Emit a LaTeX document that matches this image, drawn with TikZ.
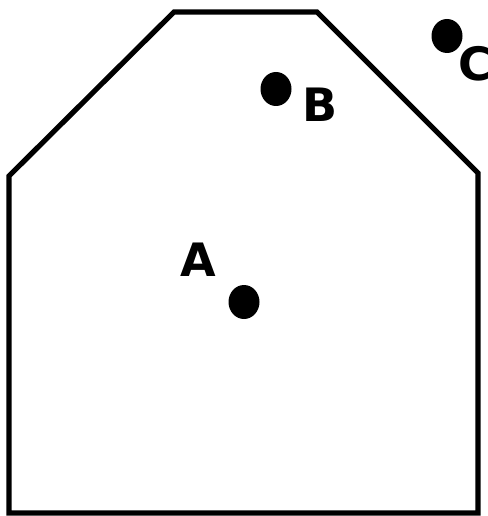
\documentclass[tikz,border=0pt]{standalone}
\usepackage{fontspec}
\setsansfont{DejaVu Sans}
\tikzset{
  wall/.style={line width=5.2pt, line join=miter},
  spot/.style={fill=black},
  tag/.style={font=\sffamily\bfseries\fontsize{46}{46}\selectfont, inner sep=0pt}
}
\begin{document}
\begin{tikzpicture}[x=1pt, y=-1pt]
    \useasboundingbox (0,0) rectangle (487,516);
    % Drawing the outline
    \draw [wall] (9,513) -- (9,176) -- (174,12) -- (317,12) -- (478,173) -- (478,513) -- cycle;
    % Drawing the points
    \coordinate (A) at (244,302);
    \coordinate (B) at (276,89);
    \coordinate (C) at (447,36);
    \fill [spot] (A) ellipse [x radius=15.5, y radius=17];
    \fill [spot] (B) ellipse [x radius=15.5, y radius=17];
    \fill [spot] (C) ellipse [x radius=15.5, y radius=17];
    % Labelling the points
    \node [tag] (labelA) at (198,260) {A};
    \node [tag] (labelB) at (320,105) {B};
    \node [tag] (labelC) at (475,64) {C};
  \end{tikzpicture}
\end{document}
